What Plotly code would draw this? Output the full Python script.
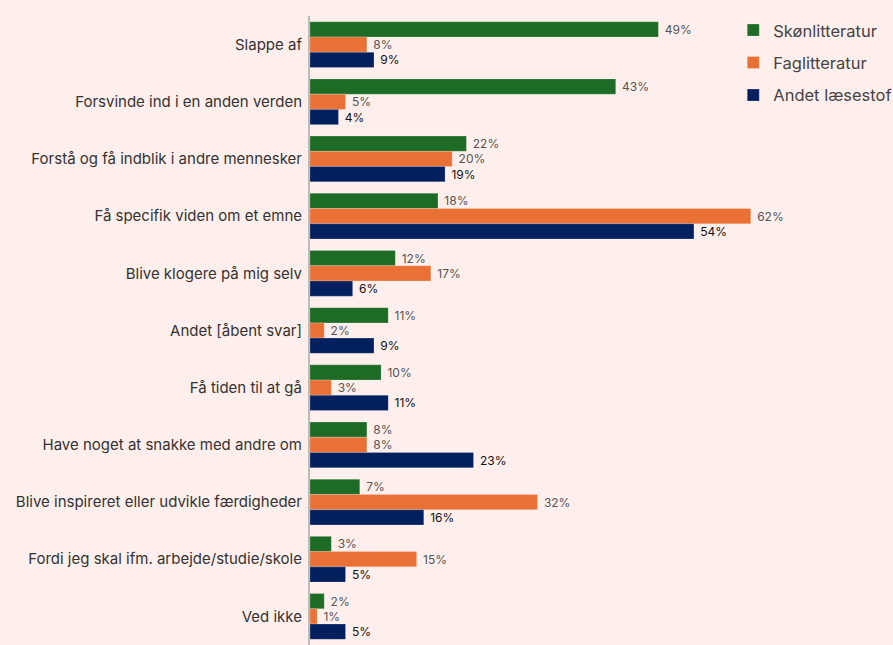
import plotly.graph_objects as go

# Data
categories = ["Slappe af", "Forsvinde ind i en anden verden",
              "Forstå og få indblik i andre mennesker", "Få specifik viden om et emne",
              "Blive klogere på mig selv", "Andet [åbent svar]", "Få tiden til at gå",
              "Have noget at snakke med andre om", "Blive inspireret eller udvikle færdigheder",
              "Fordi jeg skal ifm. arbejde/studie/skole", "Ved ikke"]
skoenlitteratur = [49, 43, 22, 18, 12, 11, 10, 8, 7, 3, 2]
faglitteratur = [8, 5, 20, 62, 17, 2, 3, 8, 32, 15, 1]
andet = [9, 4, 19, 54, 6, 9, 11, 23, 16, 5, 5]

series = [("Skønlitteratur", skoenlitteratur, "#1E6B25", "#555555"),
          ("Faglitteratur", faglitteratur, "#EA7135", "#555555"),
          ("Andet læsestof", andet, "#03205E", "#111111")]

fig = go.Figure()
for i, (name, vals, col, tcol) in enumerate(series):
    fig.add_trace(go.Bar(
        y=categories, x=vals, name=name, orientation="h",
        marker=dict(color=col, line=dict(color="rgba(255,255,255,0.4)", width=0.5)),
        text=[f"\u00a0{v}%" for v in vals], textposition="outside",
        textfont=dict(size=12, color=tcol, family="Inter"),
        cliponaxis=False, legendgroup=str(i)))

fig.update_layout(
    width=893, height=645,
    paper_bgcolor="#FFEFEC", plot_bgcolor="#FFEFEC",
    margin=dict(l=310, r=0, t=16, b=0, autoexpand=False),
    barmode="group", bargap=0.2, bargroupgap=0,
    font=dict(family="Inter", color="#333333"),
    showlegend=True,
    legend=dict(x=0.726, y=1.005, xanchor="left", yanchor="top",
                font=dict(size=16.5, color="#444444"),
                tracegroupgap=8, bgcolor="rgba(0,0,0,0)",
                itemwidth=30),
)
fig.update_yaxes(categoryorder="array", categoryarray=categories, autorange="reversed",
                 showline=True, linecolor="#BBBBBB", linewidth=2,
                 ticks="outside", ticklen=3, tickcolor="rgba(0,0,0,0)",
                 tickfont=dict(size=15, color="#333333"), showgrid=False)
fig.update_xaxes(range=[0, 82], visible=False, showgrid=False, zeroline=False)

fig.write_html("out.html", config={"displayModeBar": False},
               post_script="document.body.style.margin='0';")
